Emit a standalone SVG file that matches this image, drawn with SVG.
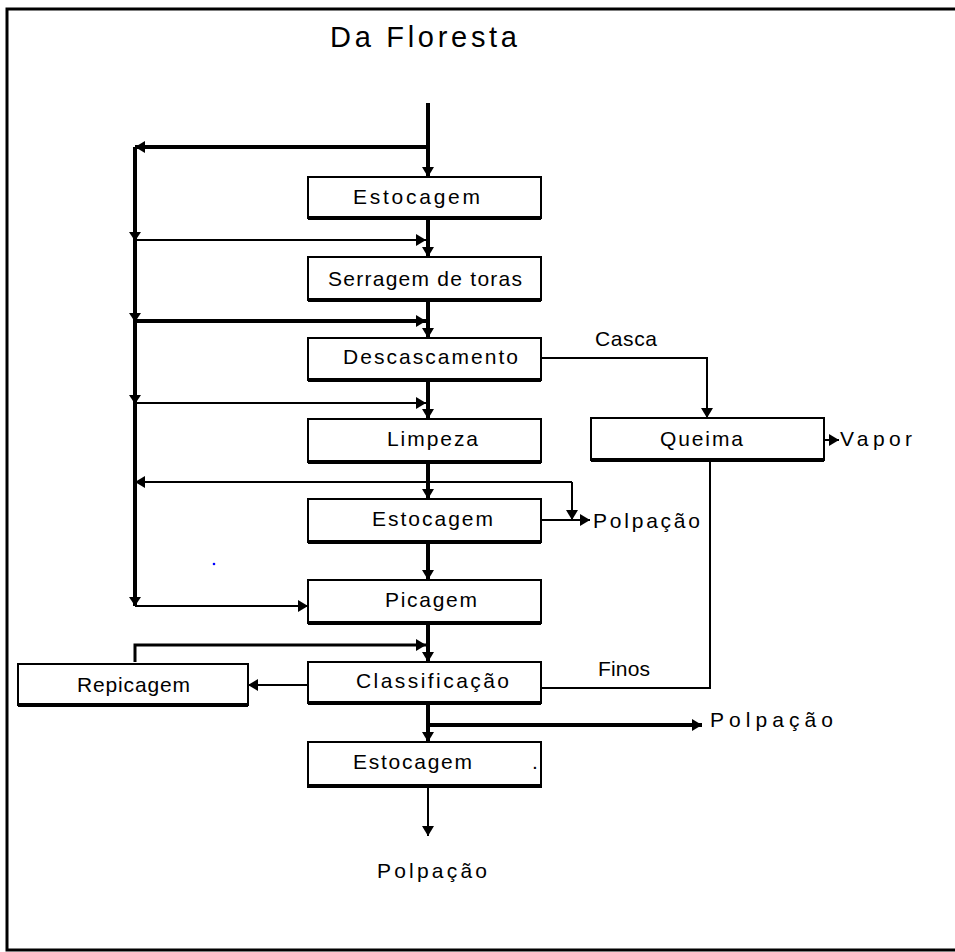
<svg xmlns="http://www.w3.org/2000/svg" width="955" height="952" viewBox="0 0 955 952">
<style>
text{font-family:"Liberation Sans",Arial,sans-serif;font-size:21px;fill:#000}
.box{fill:#fff;stroke:#000;stroke-width:2}
.sh{stroke:#000;stroke-width:4;fill:none}
.thick{stroke:#000;stroke-width:4;fill:none}
.thin{stroke:#000;stroke-width:2;fill:none}
.mid{stroke:#000;stroke-width:3;fill:none}
.ah{fill:#000}
</style>
<defs>
<marker id="arr" markerUnits="userSpaceOnUse" markerWidth="10" markerHeight="12" refX="10" refY="6" orient="auto">
<path d="M0,0 L10,6 L0,12 z" fill="#000"/>
</marker>
</defs>
<rect width="955" height="952" fill="#fff"/>
<g id="frame">
<path d="M955,9 H7 V950 H955" class="mid"/>
</g>
<g id="title"><text x="330" y="47" textLength="187" lengthAdjust="spacing" style="font-size:29px">Da Floresta</text></g>

<g id="connectors">
<path d="M428,103 V177" class="thick" marker-end="url(#arr)"/>
<path d="M428,147 H135" class="thick" marker-end="url(#arr)"/>
<path d="M135,147 V606" class="thick"/>
<polygon class="ah" points="129,232 141,232 135,241"/>
<polygon class="ah" points="129,313 141,313 135,322"/>
<polygon class="ah" points="129,395 141,395 135,404"/>
<polygon class="ah" points="129,597 141,597 135,606"/>
<path d="M428,218 V257" class="thick" marker-end="url(#arr)"/>
<path d="M135,240 H426" class="thin" marker-end="url(#arr)"/>
<path d="M428,300 V338" class="thick" marker-end="url(#arr)"/>
<path d="M135,321 H426" class="thick" marker-end="url(#arr)"/>
<path d="M428,380 V419" class="thick" marker-end="url(#arr)"/>
<path d="M135,403 H426" class="thin" marker-end="url(#arr)"/>
<path d="M428,462 V499" class="thick" marker-end="url(#arr)"/>
<path d="M572,482 H135" class="thin" marker-end="url(#arr)"/>
<path d="M572,482 V520" class="thin" marker-end="url(#arr)"/>
<path d="M541,520 H590" class="thin" marker-end="url(#arr)"/>
<path d="M428,542 V580" class="thick" marker-end="url(#arr)"/>
<path d="M135,606 H308" class="thin" marker-end="url(#arr)"/>
<path d="M428,623 V662" class="thick" marker-end="url(#arr)"/>
<path d="M135,662 V645 H426" class="mid" marker-end="url(#arr)"/>
<path d="M308,685 H248" class="thin" marker-end="url(#arr)"/>
<path d="M541,688 H710 V461" class="thin"/>
<path d="M428,703 V742" class="thick" marker-end="url(#arr)"/>
<path d="M428,725 H702" class="thick" marker-end="url(#arr)"/>
<path d="M428,787 V836" class="thin" marker-end="url(#arr)"/>
<path d="M541,358 H707 V418" class="thin" marker-end="url(#arr)"/>
<path d="M824,440 H839" class="thin" marker-end="url(#arr)"/>
</g>

<g id="n-estocagem1">
<rect class="box" x="308" y="177" width="233" height="41"/><path class="sh" d="M308,218 H541"/>
<text x="353" y="204" textLength="127" lengthAdjust="spacing">Estocagem</text>
</g>
<g id="n-serragem">
<rect class="box" x="308" y="257" width="233" height="43"/><path class="sh" d="M308,300 H541"/>
<text x="328" y="286" textLength="194" lengthAdjust="spacing">Serragem de toras</text>
</g>
<g id="n-descascamento">
<rect class="box" x="308" y="338" width="233" height="42"/><path class="sh" d="M308,380 H541"/>
<text x="343" y="364" textLength="175" lengthAdjust="spacing">Descascamento</text>
</g>
<g id="n-limpeza">
<rect class="box" x="308" y="419" width="233" height="43"/><path class="sh" d="M308,462 H541"/>
<text x="387" y="446" textLength="91" lengthAdjust="spacing">Limpeza</text>
</g>
<g id="n-estocagem2">
<rect class="box" x="308" y="499" width="233" height="43"/><path class="sh" d="M308,542 H541"/>
<text x="372" y="526" textLength="121" lengthAdjust="spacing">Estocagem</text>
</g>
<g id="n-picagem">
<rect class="box" x="308" y="580" width="233" height="43"/><path class="sh" d="M308,623 H541"/>
<text x="385" y="607" textLength="92" lengthAdjust="spacing">Picagem</text>
</g>
<g id="n-classificacao">
<rect class="box" x="308" y="662" width="233" height="41"/><path class="sh" d="M308,703 H541"/>
<text x="356" y="688" textLength="153" lengthAdjust="spacing">Classificação</text>
</g>
<g id="n-estocagem3">
<rect class="box" x="308" y="742" width="233" height="45"/><path class="sh" d="M308,786 H541"/>
<text x="353" y="769" textLength="119" lengthAdjust="spacing">Estocagem</text>
<text x="532" y="769">.</text>
</g>
<g id="n-repicagem">
<rect class="box" x="18" y="664" width="230" height="41"/><path class="sh" d="M18,705 H248"/>
<text x="77" y="692" textLength="113" lengthAdjust="spacing">Repicagem</text>
</g>
<g id="n-queima">
<rect class="box" x="591" y="418" width="233" height="42"/><path class="sh" d="M591,460 H824"/>
<text x="660" y="446" textLength="83" lengthAdjust="spacing">Queima</text>
</g>

<g id="labels">
<text x="840" y="446" textLength="72" lengthAdjust="spacing">Vapor</text>
<text x="595" y="346" textLength="62" lengthAdjust="spacing">Casca</text>
<text x="598" y="676" textLength="52" lengthAdjust="spacing">Finos</text>
<text x="593" y="528" textLength="107" lengthAdjust="spacing">Polpação</text>
<text x="710" y="727" textLength="123" lengthAdjust="spacing">Polpação</text>
<text x="377" y="878" textLength="110" lengthAdjust="spacing">Polpação</text>
</g>
<circle cx="214" cy="564" r="1.3" fill="#0000ff"/>
</svg>
